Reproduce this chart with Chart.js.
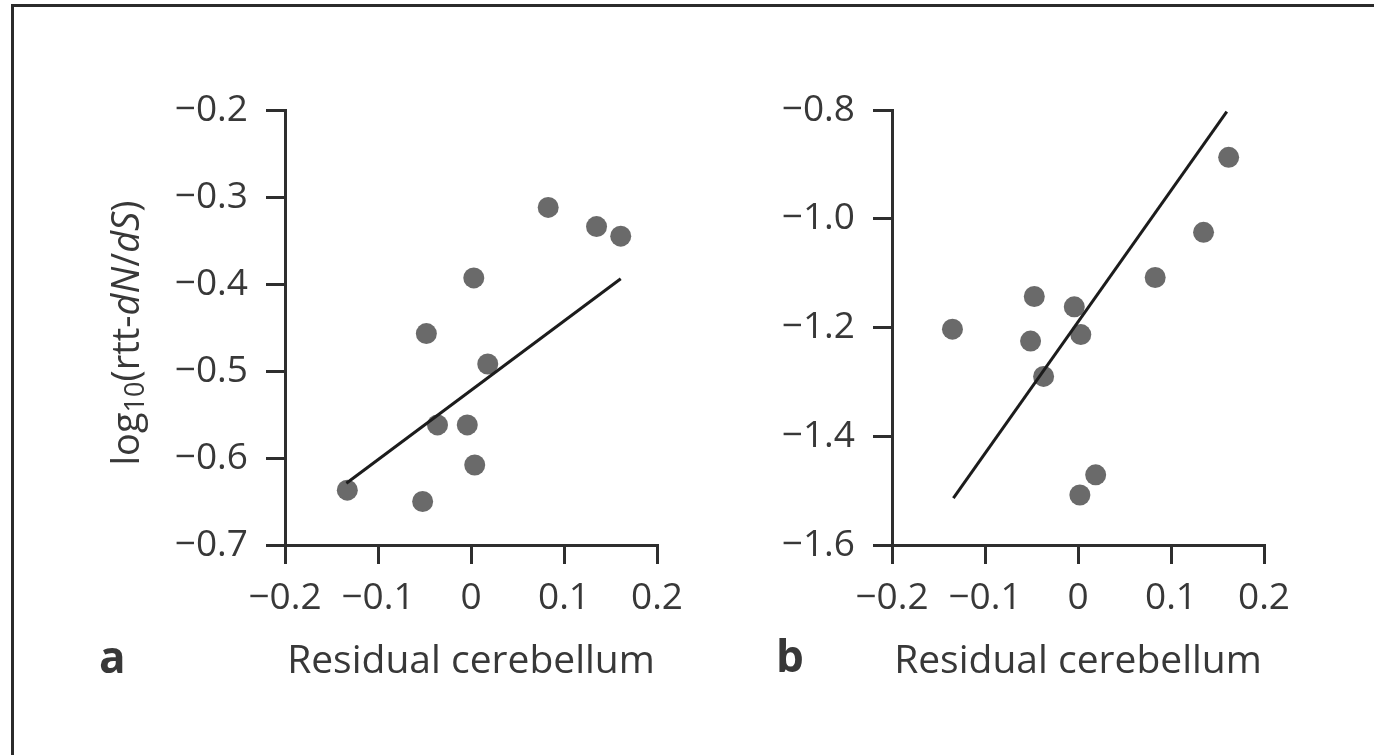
<!DOCTYPE html>
<html>
<head>
<meta charset="utf-8">
<script src="https://cdn.jsdelivr.net/npm/chart.js@4/dist/chart.umd.min.js"></script>
<style>
  html, body { margin: 0; padding: 0; background: #fff; }
  body { width: 1374px; height: 755px; position: relative; overflow: hidden; }
  .frame { position: absolute; left: 11px; top: 4px; right: 0; bottom: 0; border-top: 3px solid #2b2b2b; border-left: 3px solid #2b2b2b; }
  .panel { position: absolute; top: 0; width: 687px; height: 755px; }
  #panelA { left: 0; }
  #panelB { left: 687px; }
</style>
</head>
<body>
<div class="frame"></div>
<div class="panel" id="panelA"><canvas id="chartA"></canvas></div>
<div class="panel" id="panelB"><canvas id="chartB"></canvas></div>
<script>
// panel a: residual cerebellum vs log10(rtt-dN/dS)
const residualA = [-0.133, -0.052, -0.048, -0.036, -0.004, 0.003, 0.004, 0.018, 0.083, 0.135, 0.161];
const ratioA    = [-0.637, -0.650, -0.457, -0.562, -0.562, -0.393, -0.608, -0.492, -0.312, -0.334, -0.345];
const fitXA = [-0.134, 0.161];
const fitYA = [-0.629, -0.394];

// panel b
const residualB = [-0.135, -0.051, -0.047, -0.037, -0.004, 0.002, 0.003, 0.019, 0.083, 0.135, 0.162];
const ratioB    = [-1.203, -1.225, -1.143, -1.290, -1.162, -1.508, -1.213, -1.471, -1.108, -1.025, -0.887];
const fitXB = [-0.134, 0.160];
const fitYB = [-1.514, -0.803];

// tick labels
const xTicks  = [-0.2, -0.1, 0, 0.1, 0.2];
const yTicksA = [-0.7, -0.6, -0.5, -0.4, -0.3, -0.2];
const yTicksB = [-1.6, -1.4, -1.2, -1.0, -0.8];

const FONT = '"Open Sans", "Noto Sans", sans-serif';
const TEXT = "#383838";
const AXIS = "#2e2e2e";

const fmt = (v) => {
    if (Math.abs(v) < 1e-9) return "0";
    return v.toFixed(1).replace("-", "\u2212");
}

// letter + rich y title (subscript and italics) drawn on the canvas
const panelText = {
    id: "panelText",
    afterDraw(chart, args, opts) {
        const ctx = chart.ctx;
        ctx.save();
        ctx.fillStyle = TEXT;
        ctx.textBaseline = "alphabetic";
        ctx.textAlign = "left";
        ctx.font = "bold 44px " + FONT;
        ctx.fillText(opts.letter, opts.letterX, opts.letterY);

        if (opts.yTitle) {
            const parts = [
                { t: "log", f: "38px " + FONT, dy: 0 },
                { t: "10", f: "27px " + FONT, dy: 8 },
                { t: "(rtt-", f: "38px " + FONT, dy: 0 },
                { t: "dN", f: "italic 38px " + FONT, dy: 0 },
                { t: "/", f: "38px " + FONT, dy: 0 },
                { t: "dS", f: "italic 38px " + FONT, dy: 0 },
                { t: ")", f: "38px " + FONT, dy: 0 }
            ];
            let total = 0;
            parts.forEach(p => { ctx.font = p.f; p.w = ctx.measureText(p.t).width; total += p.w; });
            ctx.translate(opts.titleX, opts.titleY);
            ctx.rotate(-Math.PI / 2);
            ctx.textBaseline = "middle";
            let x = -total / 2;
            parts.forEach(p => {
                ctx.font = p.f;
                ctx.fillText(p.t, x, p.dy);
                x += p.w;
            });
        }
        ctx.restore();
    }
}

const buildPanel = (canvasId, xs, ys, fitX, fitY, yTicks, pad, textOpts) => {
    const points = xs.map((x, i) => ({ x: x, y: ys[i] }));
    const fitLine = fitX.map((x, i) => ({ x: x, y: fitY[i] }));
    const axisGrid = {
        display: true,
        drawOnChartArea: false,
        drawTicks: true,
        tickLength: 19,
        tickWidth: 3,
        color: AXIS,
        lineWidth: 3
    };
    return new Chart(document.getElementById(canvasId), {
        type: "scatter",
        data: {
            datasets: [
                {
                    label: "fit",
                    type: "line",
                    data: fitLine,
                    borderColor: "#1c1c1c",
                    borderWidth: 3,
                    pointRadius: 0,
                    fill: false,
                    clip: false,
                    order: 1
                },
                {
                    label: "points",
                    data: points,
                    backgroundColor: "#6a6a6a",
                    borderColor: "#6a6a6a",
                    borderWidth: 0,
                    pointRadius: 10.5,
                    pointHoverRadius: 10.5,
                    clip: false,
                    order: 2
                }
            ]
        },
        options: {
            responsive: true,
            maintainAspectRatio: false,
            animation: false,
            events: [],
            layout: { padding: pad },
            plugins: {
                legend: { display: false },
                tooltip: { enabled: false },
                panelText: textOpts
            },
            scales: {
                x: {
                    type: "linear",
                    min: -0.2,
                    max: 0.2,
                    afterBuildTicks: (s) => { s.ticks = xTicks.map(v => ({ value: v })); },
                    afterFit: (s) => { s.height = 150; s.paddingLeft = 0; s.paddingRight = 0; },
                    grid: axisGrid,
                    border: { display: true, color: AXIS, width: 3 },
                    ticks: {
                        color: TEXT,
                        font: { family: FONT, size: 37 },
                        padding: 12,
                        maxRotation: 0,
                        callback: (v) => fmt(v)
                    },
                    title: {
                        display: true,
                        text: "Residual cerebellum",
                        color: TEXT,
                        font: { family: FONT, size: 39 },
                        padding: { top: 0, bottom: 10 }
                    }
                },
                y: {
                    type: "linear",
                    min: yTicks[0],
                    max: yTicks[yTicks.length - 1],
                    afterBuildTicks: (s) => { s.ticks = yTicks.map(v => ({ value: v })); },
                    afterFit: (s) => { s.width = 120; s.paddingTop = 0; s.paddingBottom = 0; },
                    grid: axisGrid,
                    border: { display: true, color: AXIS, width: 3 },
                    ticks: {
                        color: TEXT,
                        font: { family: FONT, size: 37 },
                        padding: 18,
                        callback: (v) => fmt(v)
                    }
                }
            }
        },
        plugins: [panelText]
    });
}

buildPanel("chartA", residualA, ratioA, fitXA, fitYA, yTicksA,
    { left: 165, right: 30, top: 110, bottom: 60 },
    { letter: "a", letterX: 99, letterY: 673, yTitle: true, titleX: 128, titleY: 333 });

buildPanel("chartB", residualB, ratioB, fitXB, fitYB, yTicksB,
    { left: 85, right: 110, top: 110, bottom: 60 },
    { letter: "b", letterX: 89, letterY: 672, yTitle: false });
</script>
</body>
</html>
